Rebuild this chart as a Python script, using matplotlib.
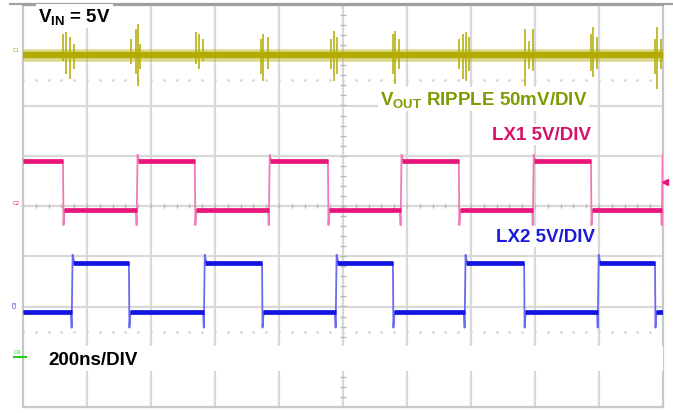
import numpy as np
import matplotlib.pyplot as plt
from matplotlib.patches import Rectangle
from matplotlib.lines import Line2D

plt.rcParams['font.family'] = 'Liberation Sans'
plt.rcParams['mathtext.fontset'] = 'custom'
plt.rcParams['mathtext.bf'] = 'Liberation Sans:bold'
plt.rcParams['mathtext.rm'] = 'Liberation Sans'

# time axis: 200 ns/div, 10 div ; vertical: 8 div
t_span = 2000
n_ydiv = 4

# C1 : output ripple (offset +3 div), spikes at switching edges
c1_level = 3.0
c1_spike_t = [125, 134, 147, 159, 338, 353, 359, 366, 541, 550, 563,
              744, 750, 766, 963, 972, 981, 1156, 1163, 1175,
              1363, 1375, 1384, 1394, 1569, 1581, 1594, 1775, 1781, 1794,
              1975, 1981, 1994]
c1_spike_hi = [3.42, 3.46, 3.36, 3.22, 3.32, 3.52, 3.62, 3.22, 3.46, 3.42, 3.32,
               3.32, 3.42, 3.36, 3.32, 3.48, 3.36, 3.42, 3.48, 3.32,
               3.32, 3.42, 3.46, 3.36, 3.52, 3.28, 3.52, 3.42, 3.56, 3.36,
               3.32, 3.56, 3.32]
c1_spike_lo = [2.89, 2.63, 2.53, 2.73, 2.83, 2.63, 2.39, 2.73, 2.83, 2.73, 2.89,
               2.63, 2.49, 2.73, 2.73, 2.49, 2.63, 2.63, 2.43, 2.73,
               2.73, 2.53, 2.49, 2.69, 2.39, 2.73, 2.69, 2.69, 2.57, 2.73,
               2.63, 2.33, 2.73]

# C2 : LX1
c2_rise = [356, 769, 1181, 1594, 1997]
c2_fall = [125, 537, 953, 1362, 1775]
c2_high, c2_low, c2_dip, c2_peak = 0.90, -0.08, -0.38, 1.02

# C3 : LX2
c3_rise = [153, 566, 978, 1381, 1797]
c3_fall = [331, 747, 1156, 1566, 1975]
c3_high, c3_low, c3_dip, c3_peak = -1.13, -2.11, -2.42, -0.97

trig_level = 0.48

col_c1 = '#b3ab00'
col_c2 = '#e8157a'
col_c2_edge = '#f07ab8'
col_c3 = '#1414e0'
col_c3_edge = '#6a6af0'


def square(rise, fall, hi, lo, dip, peak):
    edges = sorted([(t, 'r') for t in rise] + [(t, 'f') for t in fall])
    start_high = edges[0][1] == 'f'
    ts = [0]
    vs = [hi if start_high else lo]
    segs_hi, segs_lo = [], []
    prev = 0
    for t, k in edges:
        if k == 'f':
            segs_hi.append((prev, t))
            ts += [t, t + 1.5, t + 5]
            vs += [hi, dip, lo]
        else:
            segs_lo.append((prev, t))
            ts += [t - 3, t - 1, t + 2, t + 7]
            vs += [lo, dip, peak, hi]
        prev = t + 4
    last = edges[-1][1]
    ts.append(t_span + 10)
    vs.append(hi if last == 'r' else lo)
    if last == 'r':
        segs_hi.append((prev, t_span))
    else:
        segs_lo.append((prev, t_span))
    return ts, vs, segs_hi, segs_lo


fig = plt.figure(figsize=(6.73, 4.14), dpi=100)
ax = fig.add_axes([23 / 673, 1 - 408 / 414, 640 / 673, 402 / 414])
ax.set_xlim(0, t_span)
ax.set_ylim(-n_ydiv, n_ydiv)

# graticule
for x in np.arange(200, t_span, 200):
    ax.axvline(x, color='#d8d8d8', lw=1.6, zorder=0)
for y in np.arange(-n_ydiv + 1, n_ydiv):
    ax.axhline(y, color='#d8d8d8', lw=1.6, zorder=0)
minor_x = np.arange(0, t_span + 1, 40)
minor_y = np.arange(-n_ydiv, n_ydiv + 0.01, 0.2)
ax.vlines(minor_x, -0.04, 0.04, color='#b8b8b8', lw=1, zorder=0)
ax.hlines(minor_y, t_span / 2 - 8, t_span / 2 + 8, color='#b8b8b8', lw=1, zorder=0)
for yd in (2.5, -2.5):
    ax.plot(minor_x, np.full(minor_x.shape, yd), ls='none', marker='.',
            ms=1.8, color='#d4d4d4', zorder=0)

for side in ('left', 'right', 'bottom'):
    ax.spines[side].set_color('#c8c8c8')
    ax.spines[side].set_linewidth(1.6)
ax.spines['top'].set_color('#a0a0a0')
ax.spines['top'].set_linewidth(1.6)
ax.set_xticks([])
ax.set_yticks([])

# C1 ripple: fuzzy outer band + denser core
ax.plot([0, t_span], [c1_level, c1_level], color=col_c1, lw=9, alpha=0.45,
        solid_capstyle='butt', zorder=3)
ax.plot([0, t_span], [c1_level, c1_level], color=col_c1, lw=4.5,
        solid_capstyle='butt', zorder=3)
ax.vlines(c1_spike_t, c1_spike_lo, c1_spike_hi, color=col_c1, lw=1.1, zorder=3)

# C2 / C3 switch nodes
for rise, fall, hi, lo, dip, peak, c, ce in (
        (c2_rise, c2_fall, c2_high, c2_low, c2_dip, c2_peak, col_c2, col_c2_edge),
        (c3_rise, c3_fall, c3_high, c3_low, c3_dip, c3_peak, col_c3, col_c3_edge)):
    ts, vs, sh, sl = square(rise, fall, hi, lo, dip, peak)
    ax.plot(ts, vs, color=ce, lw=1.3, zorder=3)
    ax.hlines([hi] * len(sh), [a for a, b in sh], [b for a, b in sh], color=c, lw=3.4, zorder=4)
    ax.hlines([lo] * len(sl), [a for a, b in sl], [b for a, b in sl], color=c, lw=3.4, zorder=4)

# trigger marker on right edge
ax.plot([t_span + 6], [trig_level], marker='<', ms=4, color=col_c2, clip_on=False, zorder=5)

# white label band at bottom
ax.add_patch(Rectangle((0.003, 36 / 402), 0.997, 25 / 402, transform=ax.transAxes,
                       facecolor='white', edgecolor='none', zorder=6))


def px(x, y):
    return x / 673, 1 - y / 414


box = dict(facecolor='white', edgecolor='none', pad=1.5)
fig.text(*px(38, 22), r'$\mathbf{V_{IN}}$ = 5V', fontsize=13.5, fontweight='bold',
         color='black', va='baseline', bbox=box, zorder=7)
fig.text(*px(380, 105), r'$\mathbf{V_{OUT}}$ RIPPLE 50mV/DIV', fontsize=13.5,
         fontweight='bold', color='#7c9c00', va='baseline', bbox=box, zorder=7)
fig.text(*px(492, 140), 'LX1 5V/DIV', fontsize=13.5, fontweight='bold',
         color='#d8106a', va='baseline', bbox=box, zorder=7)
fig.text(*px(496, 242), 'LX2 5V/DIV', fontsize=13.5, fontweight='bold',
         color='#1a1ad8', va='baseline', bbox=box, zorder=7)
fig.text(*px(48, 365), '200ns/DIV', fontsize=13.5, fontweight='bold',
         color='black', va='baseline', zorder=7)

# channel markers
fig.text(*px(13, 52), 'C1', fontsize=4, color=col_c1, va='baseline')
fig.text(*px(13, 205), 'C2', fontsize=4, color=col_c2, va='baseline')
fig.text(*px(13, 307), 'C3', fontsize=4, color=col_c3, va='baseline', rotation=90)
fig.text(*px(14, 354), 'C4', fontsize=4, color='#22cc22', va='baseline')
fig.add_artist(Line2D([14 / 673, 26 / 673], [1 - 358 / 414, 1 - 358 / 414],
                      color='#22cc22', lw=1.5, zorder=8))
fig.add_artist(Line2D([10 / 673, 1], [1 - 5 / 414, 1 - 5 / 414], color='#a0a0a0', lw=1.6))

fig.savefig('out.png', dpi=100, facecolor='white')
